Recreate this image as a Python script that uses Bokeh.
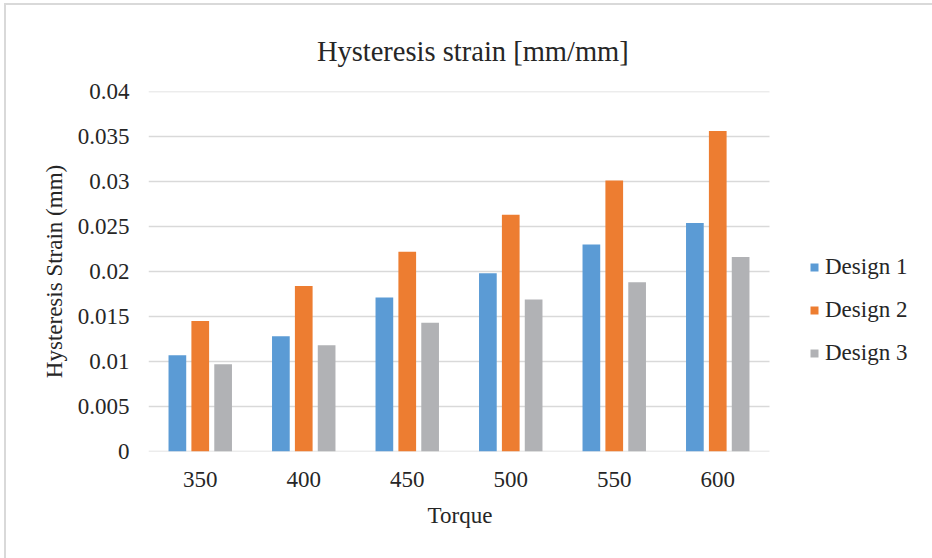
from bokeh.plotting import figure
from bokeh.models import Range1d, FixedTicker, Legend, LegendItem
from bokeh.embed import file_html
from bokeh.resources import INLINE

torque = ["350", "400", "450", "500", "550", "600"]
design1 = [0.0107, 0.0128, 0.0171, 0.0198, 0.0230, 0.0254]
design2 = [0.0145, 0.0184, 0.0222, 0.0263, 0.0301, 0.0356]
design3 = [0.0097, 0.0118, 0.0143, 0.0169, 0.0188, 0.0216]
series_names = ["Design 1", "Design 2", "Design 3"]
colors = ["#5B9BD5", "#ED7D31", "#B1B2B5"]
y_ticks = [0, 0.005, 0.01, 0.015, 0.02, 0.025, 0.03, 0.035, 0.04]
y_tick_labels = ["0", "0.005", "0.01", "0.015", "0.02", "0.025", "0.03", "0.035", "0.04"]

FONT = "Liberation Serif"
TXT = "#262626"
NBSP = "\u00a0"

n = len(torque)
centers = [i + 0.5 for i in range(n)]
CAT_PX = 103.5          # pixel width of one category
FRAME_W = 784           # frame extends under the legend area
p = figure(
    x_range=Range1d(0, FRAME_W / CAT_PX),
    y_range=Range1d(0, 0.04),
    frame_width=FRAME_W, frame_height=360,
    output_backend="svg", toolbar_location=None,
    title="Hysteresis strain [mm/mm]" + NBSP * 19,
    min_border_left=142, min_border_right=0,
    min_border_top=86, min_border_bottom=107,
)
p.margin = (3, 0, 0, 4)
p.styles = {"border-left": "2px solid #d9d9d9", "border-top": "2px solid #d9d9d9"}

# horizontal gridlines only across the category area
p.segment(x0=[0] * len(y_ticks), x1=[n] * len(y_ticks), y0=y_ticks, y1=y_ticks,
          line_color="#D9D9D9", line_width=1.5)

offsets = [-0.221, 0.0, 0.221]
series = [design1, design2, design3]
renderers = []
for vals, off, c in zip(series, offsets, colors):
    xs = [cx + off for cx in centers]
    r = p.vbar(x=xs, top=vals, width=0.171, fill_color=c, line_color=None)
    renderers.append(r)

p.title.align = "center"
p.title.text_font = FONT
p.title.text_font_size = "28.5px"
p.title.text_font_style = "normal"
p.title.text_color = TXT
p.title.standoff = 50

p.outline_line_color = None
p.background_fill_color = "white"
p.border_fill_color = "white"

p.xgrid.grid_line_color = None
p.ygrid.grid_line_color = None

p.yaxis.ticker = FixedTicker(ticks=y_ticks)
p.yaxis.major_label_overrides = {t: l for t, l in zip(y_ticks, y_tick_labels)}
p.xaxis.ticker = FixedTicker(ticks=centers)
p.xaxis.major_label_overrides = {c: t for c, t in zip(centers, torque)}

for ax in (p.xaxis[0], p.yaxis[0]):
    ax.axis_line_color = None
    ax.major_tick_line_color = None
    ax.minor_tick_line_color = None
    ax.major_tick_out = 0
    ax.major_tick_in = 0
    ax.major_label_text_font = FONT
    ax.major_label_text_font_size = "23px"
    ax.major_label_text_color = TXT
    ax.axis_label_text_font = FONT
    ax.axis_label_text_font_size = "23px"
    ax.axis_label_text_font_style = "normal"
    ax.axis_label_text_color = TXT

p.yaxis.axis_label = "Hysteresis Strain (mm)"
p.yaxis.major_label_standoff = 19
p.yaxis.axis_label_standoff = 8
p.xaxis.axis_label = "Torque" + NBSP * 28
p.xaxis.major_label_standoff = 20
p.xaxis.axis_label_standoff = 13

legend = Legend(
    items=[LegendItem(label=s, renderers=[r]) for s, r in zip(series_names, renderers)],
    location=(661, 85),
    orientation="vertical",
    glyph_width=10, glyph_height=10,
    label_text_font=FONT, label_text_font_size="23px", label_text_color=TXT,
    label_standoff=6, spacing=17, padding=0, margin=0,
    border_line_color=None, background_fill_alpha=0,
)
p.add_layout(legend, "center")

open("out.html", "w").write(file_html(p, INLINE))
